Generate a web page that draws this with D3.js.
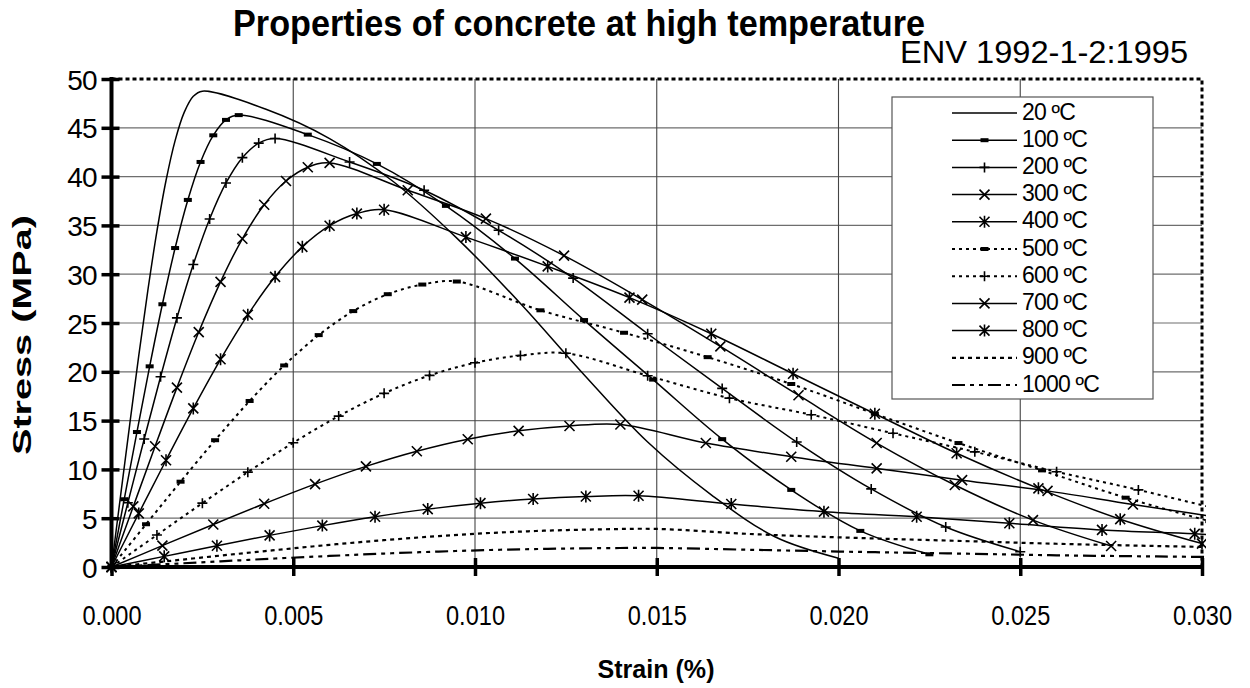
<!DOCTYPE html>
<html><head><meta charset="utf-8">
<script src="https://cdn.jsdelivr.net/npm/d3@7"></script>
<style>
body{margin:0;background:#fff}
svg{display:block;font-family:"Liberation Sans",Arial,sans-serif}
</style>
</head><body>
<svg id="chart" width="1250" height="688"></svg>
<script>
// ---- data (strain, stress MPa) ----
const xTicks = [0, 0.005, 0.010, 0.015, 0.020, 0.025, 0.030];
const xTickLabels = ["0.000", "0.005", "0.010", "0.015", "0.020", "0.025", "0.030"];
const yTicks = [0, 5, 10, 15, 20, 25, 30, 35, 40, 45, 50];
const yTickLabels = ["0", "5", "10", "15", "20", "25", "30", "35", "40", "45", "50"];
const seriesNames = ["20 ºC", "100 ºC", "200 ºC", "300 ºC", "400 ºC", "500 ºC", "600 ºC", "700 ºC", "800 ºC", "900 ºC", "1000 ºC"];

const s20 = [[0,0],[0.00025,7.31],[0.0005,14.57],[0.00075,21.65],[0.001,28.34],[0.00125,34.41],[0.0015,39.6],[0.00175,43.69],[0.002,46.58],[0.00225,48.23],[0.0025,48.75],
  [0.00425,46.9],[0.006,43.9],[0.00775,39.5],[0.0095,33.7],[0.01125,27.0],[0.013,19.7],[0.01475,12.8],[0.0165,7.4],[0.01825,3.1],[0.02,0.9]];
const s100 = [[0,0],[0.00035,6.94],[0.0007,13.83],[0.00105,20.56],[0.0014,26.92],[0.00175,32.68],[0.0021,37.61],[0.00245,41.5],[0.0028,44.23],[0.00315,45.81],[0.0035,46.3],
  [0.0054,44.3],[0.0073,41.3],[0.0092,37.0],[0.0111,31.6],[0.013,25.3],[0.0149,19.2],[0.0168,13.1],[0.0187,7.9],[0.0206,3.7],[0.0225,1.3]];
const s200 = [[0,0],[0.00045,6.58],[0.0009,13.12],[0.00135,19.49],[0.0018,25.52],[0.00225,30.99],[0.0027,35.66],[0.00315,39.35],[0.0036,41.94],[0.00405,43.43],[0.0045,43.9],
  [0.00655,41.5],[0.0086,38.6],[0.01065,34.5],[0.0127,29.6],[0.01475,23.9],[0.0168,18.3],[0.01885,12.8],[0.0209,8.0],[0.02295,4.1],[0.025,1.57]];
const s300 = [[0,0],[0.0006,6.21],[0.0012,12.37],[0.0018,18.38],[0.0024,24.07],[0.003,29.22],[0.0036,33.63],[0.0042,37.11],[0.0048,39.55],[0.0054,40.96],[0.006,41.4],
  [0.00815,38.6],[0.0103,35.7],[0.01245,31.9],[0.0146,27.4],[0.01675,22.6],[0.0189,17.6],[0.02105,12.7],[0.0232,8.4],[0.02535,4.8],[0.0275,2.15]];
const s400 = [[0,0],[0.00075,5.49],[0.0015,10.94],[0.00225,16.25],[0.003,21.28],[0.00375,25.84],[0.0045,29.73],[0.00525,32.8],[0.006,34.97],[0.00675,36.21],[0.0075,36.6],
  [0.00975,33.8],[0.012,30.8],[0.01425,27.6],[0.0165,23.9],[0.01875,19.8],[0.021,15.7],[0.02325,11.65],[0.0255,8.06],[0.02775,4.9],[0.03,2.4]];
const s500 = [[0,0],[0.00095,4.38],[0.0019,8.74],[0.00285,12.99],[0.0038,17.01],[0.00475,20.65],[0.0057,23.76],[0.00665,26.22],[0.0076,27.95],[0.00855,28.94],[0.0095,29.25],
  [0.0118,26.3],[0.0141,24.0],[0.0164,21.5],[0.0187,18.75],[0.021,15.7],[0.0233,12.7],[0.0256,9.9],[0.0279,7.1],[0.0302,4.7],[0.0325,2.4]];
const s600 = [[0,0],[0.00125,3.28],[0.0025,6.54],[0.00375,9.72],[0.005,12.73],[0.00625,15.46],[0.0075,17.79],[0.00875,19.63],[0.01,20.92],[0.01125,21.67],[0.0125,21.9],
  [0.01475,19.6],[0.017,17.3],[0.01925,15.6],[0.0215,13.7],[0.02375,11.8],[0.026,9.76],[0.02825,7.9],[0.0305,5.9],[0.03275,4.0],[0.035,2.0]];
const s700 = [[0,0],[0.0014,2.19],[0.0028,4.36],[0.0042,6.48],[0.0056,8.49],[0.007,10.31],[0.0084,11.86],[0.0098,13.09],[0.0112,13.95],[0.0126,14.45],[0.014,14.6],
  [0.01635,12.7],[0.0187,11.3],[0.02105,10.1],[0.0234,8.9],[0.02575,7.8],[0.0281,6.4],[0.03045,5.1],[0.0328,3.8]];
const s800 = [[0,0],[0.00145,1.09],[0.0029,2.18],[0.00435,3.24],[0.0058,4.24],[0.00725,5.15],[0.0087,5.93],[0.01015,6.54],[0.0116,6.97],[0.01305,7.22],[0.0145,7.3],
  [0.01705,6.45],[0.0196,5.67],[0.02215,5.15],[0.0247,4.48],[0.02725,3.8],[0.0298,3.4],[0.03235,2.9]];
const s900 = [[0,0],[0.0015,0.58],[0.003,1.17],[0.0045,1.73],[0.006,2.27],[0.0075,2.75],[0.009,3.17],[0.0105,3.5],[0.012,3.73],[0.0135,3.86],[0.015,3.9],
  [0.01775,3.35],[0.0205,2.98],[0.02325,2.68],[0.026,2.38],[0.02875,2.15],[0.0315,1.95]];
const s1000 = [[0,0],[0.0015,0.29],[0.003,0.58],[0.0045,0.87],[0.006,1.13],[0.0075,1.38],[0.009,1.58],[0.0105,1.75],[0.012,1.86],[0.0135,1.93],[0.015,1.95],
  [0.01775,1.75],[0.0205,1.55],[0.02325,1.38],[0.026,1.2],[0.02875,1.08],[0.0315,0.98]];

const seriesData = [s20, s100, s200, s300, s400, s500, s600, s700, s800, s900, s1000];

// ---- styles ----
const dashStyle = [null, null, null, null, null, "3,4", "3,4", null, null, "4,4", "13,5,4,5,4,5"];
const markerType = [null, "dash", "plus", "x", "star", "dash", "plus", "x", "star", null, null];
const lineWidth = [1.5,1.5,1.5,1.5,1.5,2,2,1.5,1.5,2.2,2.2];

const svg = d3.select("#chart");
const W = 1250, H = 688;
const x = d3.scaleLinear().domain([0, 0.03]).range([111.5, 1202]);
const y = d3.scaleLinear().domain([0, 50]).range([567, 79]);

// gridlines
const grid = svg.append("g");
grid.selectAll("line.h").data(yTicks.filter(d => d > 0 && d < 50)).enter().append("line")
  .attr("x1", x(0)).attr("x2", x(0.03)).attr("y1", d => y(d)).attr("y2", d => y(d))
  .attr("stroke", "#6e6e6e").attr("stroke-width", 1.2);
grid.selectAll("line.v").data(xTicks.filter(d => d > 0 && d < 0.03)).enter().append("line")
  .attr("y1", y(0)).attr("y2", y(50)).attr("x1", d => x(d)).attr("x2", d => x(d))
  .attr("stroke", "#444").attr("stroke-width", 1.1);

// dashed top/right border
svg.append("path")
  .attr("d", `M${x(0)},${y(50)}H${x(0.03)}V${y(0)}`)
  .attr("fill", "none").attr("stroke", "#000").attr("stroke-width", 3).attr("stroke-dasharray", "4,3");

// clip
svg.append("defs").append("clipPath").attr("id", "plot")
  .append("rect").attr("x", 100).attr("y", 70).attr("width", 1206 - 100).attr("height", 515);

const line = d3.line().x(d => x(d[0])).y(d => y(d[1])).curve(d3.curveCatmullRom.alpha(0.5));

function drawMarker(g, type, cx, cy, s) {
  if (type === "dash") {
    g.append("rect").attr("x", cx - 4).attr("y", cy - 2).attr("width", 8).attr("height", 4).attr("fill", "#000");
  } else if (type === "plus") {
    g.append("path").attr("d", `M${cx - s},${cy}H${cx + s}M${cx},${cy - s}V${cy + s}`)
      .attr("stroke", "#000").attr("stroke-width", 1.6).attr("fill", "none");
  } else if (type === "x") {
    g.append("path").attr("d", `M${cx - s},${cy - s}L${cx + s},${cy + s}M${cx - s},${cy + s}L${cx + s},${cy - s}`)
      .attr("stroke", "#000").attr("stroke-width", 1.6).attr("fill", "none");
  } else if (type === "star") {
    g.append("path").attr("d", `M${cx - s},${cy - s}L${cx + s},${cy + s}M${cx - s},${cy + s}L${cx + s},${cy - s}M${cx},${cy - s - 1}V${cy + s + 1}`)
      .attr("stroke", "#000").attr("stroke-width", 1.6).attr("fill", "none");
  }
}

const plotG = svg.append("g").attr("clip-path", "url(#plot)");
seriesData.forEach((data, i) => {
  const g = plotG.append("g");
  g.append("path").datum(data).attr("d", line)
    .attr("fill", "none").attr("stroke", "#000").attr("stroke-width", lineWidth[i])
    .attr("stroke-dasharray", dashStyle[i]);
  if (markerType[i]) {
    data.forEach(d => drawMarker(g, markerType[i], x(d[0]), y(d[1]), 5));
  }
});

// axes
const xAxis = d3.axisBottom(x).tickValues(xTicks).tickSize(0).tickFormat((d, i) => xTickLabels[i]);
const yAxis = d3.axisLeft(y).tickValues(yTicks).tickSize(0).tickFormat((d, i) => yTickLabels[i]);

const gx = svg.append("g").attr("transform", `translate(0,${y(0)})`).call(xAxis);
gx.select(".domain").attr("stroke", "#000").attr("stroke-width", 4).attr("d", `M${x(0) - 2},0H${x(0.03) + 2}`);
gx.selectAll(".tick").append("line").attr("y1", -9).attr("y2", 9).attr("stroke", "#000").attr("stroke-width", 3.5);
gx.selectAll(".tick text").attr("y", 58).attr("dy", 0).attr("font-size", 28)
  .attr("font-family", "Liberation Sans, Arial, sans-serif").attr("fill", "#000")
  .attr("textLength", 59).attr("lengthAdjust", "spacingAndGlyphs");

const gy = svg.append("g").attr("transform", `translate(${x(0)},0)`).call(yAxis);
gy.select(".domain").attr("stroke", "#000").attr("stroke-width", 4).attr("d", `M0,${y(50) - 2}V${y(0) + 2}`);
gy.selectAll(".tick").append("line").attr("x1", -10).attr("x2", 8).attr("stroke", "#000").attr("stroke-width", 3.5);
gy.selectAll(".tick text").attr("x", -15).attr("dy", "0.36em").attr("font-size", 28)
  .attr("font-family", "Liberation Sans, Arial, sans-serif").attr("fill", "#000").attr("letter-spacing", -1);

// titles
svg.append("text").attr("x", 579).attr("y", 36).attr("text-anchor", "middle")
  .attr("font-size", 36).attr("font-weight", "bold").attr("textLength", 692).attr("lengthAdjust", "spacingAndGlyphs")
  .text("Properties of concrete at high temperature");
svg.append("text").attr("x", 900).attr("y", 63)
  .attr("font-size", 32).attr("textLength", 288).attr("lengthAdjust", "spacingAndGlyphs")
  .text("ENV 1992-1-2:1995");
svg.append("text").attr("x", 656).attr("y", 678).attr("text-anchor", "middle")
  .attr("font-size", 25).attr("font-weight", "bold").attr("textLength", 117).attr("lengthAdjust", "spacingAndGlyphs")
  .text("Strain (%)");
svg.append("text").attr("transform", "translate(31,335) rotate(-90)").attr("text-anchor", "middle")
  .attr("font-size", 25).attr("font-weight", "bold").attr("textLength", 240).attr("lengthAdjust", "spacingAndGlyphs")
  .text("Stress (MPa)");

// legend
const lg = svg.append("g");
lg.append("rect").attr("x", 892).attr("y", 97).attr("width", 261).attr("height", 302)
  .attr("fill", "#fff").attr("stroke", "#555").attr("stroke-width", 1.2);
seriesNames.forEach((name, i) => {
  const by = 119.5 + i * 27.2;
  const ly = by - 6.5;
  const row = lg.append("g");
  row.append("line").attr("x1", 952).attr("x2", 1017).attr("y1", ly).attr("y2", ly)
    .attr("stroke", "#000").attr("stroke-width", lineWidth[i]).attr("stroke-dasharray", dashStyle[i]);
  if (markerType[i]) drawMarker(row, markerType[i], 984.5, ly, 5);
  row.append("text").attr("x", 1022).attr("y", by).attr("font-size", 23).attr("letter-spacing", -0.8).text(name);
});
</script>
</body></html>
